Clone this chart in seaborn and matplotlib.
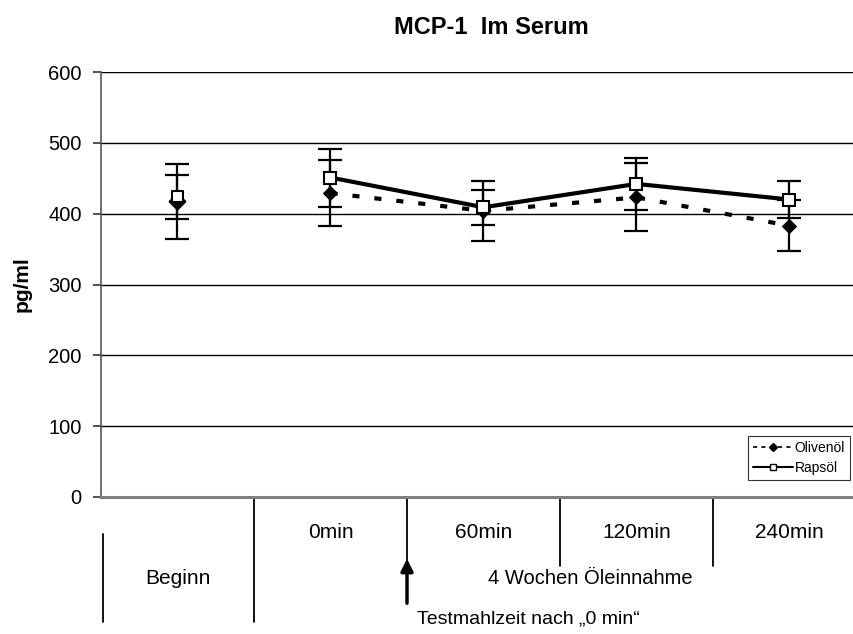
import matplotlib
matplotlib.use("Agg")
import matplotlib.pyplot as plt
import matplotlib.transforms as mtransforms
from matplotlib.lines import Line2D
import seaborn as sns
import pandas as pd

# ---- data ----
categories = ["Beginn", "0min", "60min", "120min", "240min"]
olive_mean = [417, 429, 404, 423, 383]
olive_err = [53, 47, 42, 48, 36]
raps_mean = [424, 451, 409, 442, 420]
raps_err = [31, 41, 25, 37, 26]
series_names = ["Olivenöl", "Rapsöl"]
y_ticks = [0, 100, 200, 300, 400, 500, 600]

sns.set_theme(style="white")
plt.rcParams["font.family"] = ["Liberation Sans", "DejaVu Sans"]
plt.rcParams["text.color"] = "black"
plt.rcParams["axes.labelcolor"] = "black"
plt.rcParams["ytick.color"] = "black"
plt.rcParams["xtick.color"] = "black"

W, H = 854, 634
fig = plt.figure(figsize=(W / 100, H / 100), dpi=100)
left_px, right_px, top_px, bot_px = 101, 854, 72, 497
cell_px = 153
ax = fig.add_axes([left_px / W, 1 - bot_px / H, (right_px - left_px) / W, (bot_px - top_px) / H])

x_pos = list(range(len(categories)))
rows = []
for name, means in zip(series_names, [olive_mean, raps_mean]):
    for i, (c, m) in enumerate(zip(categories, means)):
        rows.append({"x": i, "cat": c, "value": m, "series": name})
df = pd.DataFrame(rows)
df_line = df[df["x"] > 0]
df_first = df[df["x"] == 0]

# error bars
for means, errs in [(olive_mean, olive_err), (raps_mean, raps_err)]:
    ax.errorbar(x_pos, means, yerr=errs, fmt="none", ecolor="black",
                elinewidth=1.6, capsize=8.5, capthick=1.6, zorder=3)

sns.lineplot(data=df_line, x="x", y="value", hue="series", style="series",
             palette={"Olivenöl": "black", "Rapsöl": "black"},
             dashes={"Olivenöl": (1.7, 3.6), "Rapsöl": ""},
             markers={"Olivenöl": "D", "Rapsöl": "s"},
             linewidth=3, markersize=8, ax=ax, legend=False, zorder=4)

for line in ax.get_lines():
    if line.get_marker() == "s":
        line.set_markerfacecolor("white")
        line.set_markeredgecolor("black")
        line.set_markeredgewidth(1.5)
    elif line.get_marker() == "D":
        line.set_markerfacecolor("black")
        line.set_markeredgecolor("black")
        line.set_markersize(7.5)

sns.scatterplot(data=df_first, x="x", y="value", style="series", hue="series",
                palette={"Olivenöl": "black", "Rapsöl": "black"},
                markers={"Olivenöl": "D", "Rapsöl": "s"}, s=64,
                ax=ax, legend=False, zorder=5)
coll = ax.collections[-1]
fcs = ["black" if s == "Olivenöl" else "white" for s in df_first["series"]]
coll.set_facecolors(fcs)
coll.set_edgecolors("black")
coll.set_linewidths(1.5)

ax.set_xlim(-0.5, -0.5 + (right_px - left_px) / cell_px)
ax.set_ylim(0, 600)
ax.set_yticks(y_ticks)
ax.set_yticklabels([str(t) for t in y_ticks], fontsize=14.5)
ax.set_xticks([])
ax.set_xlabel("")
ax.set_ylabel("pg/ml", fontsize=15, fontweight="bold", labelpad=12)
ax.yaxis.grid(True, color="black", linewidth=1.0)
ax.set_axisbelow(True)
ax.tick_params(axis="y", which="both", left=True, length=6, width=1.2, color="#333333", pad=8)
for s in ["top", "right"]:
    ax.spines[s].set_visible(False)
ax.spines["left"].set_color("#555555")
ax.spines["left"].set_linewidth(1.2)
ax.spines["bottom"].set_color("#7f7f7f")
ax.spines["bottom"].set_linewidth(2.2)

fig.text(491 / W, 1 - 27 / H, "MCP-1  Im Serum", ha="center", va="center",
         fontsize=17, fontweight="bold")

trans = mtransforms.blended_transform_factory(ax.transData, fig.transFigure)
def fy(px):
    return 1 - px / H
def dx(px):
    return -0.5 + (px - left_px) / cell_px

for i, c in enumerate(categories[1:], start=1):
    ax.text(i, fy(532), c, transform=trans, ha="center", va="center", fontsize=15)
ax.text(0, fy(578), categories[0], transform=trans, ha="center", va="center", fontsize=15)
ax.text(dx(590), fy(578), "4 Wochen Öleinnahme", transform=trans, ha="center", va="center",
        fontsize=14.5)

for xv in [1.5, 2.5, 3.5]:
    ax.add_line(Line2D([xv, xv], [fy(497), fy(566)], transform=trans, color="black",
                       linewidth=1.3, clip_on=False))
ax.add_line(Line2D([0.5, 0.5], [fy(497), fy(622)], transform=trans, color="black",
                   linewidth=1.3, clip_on=False))
ax.add_line(Line2D([dx(103), dx(103)], [fy(534), fy(622)], transform=trans, color="black",
                   linewidth=1.3, clip_on=False))

ax.annotate("", xy=(1.5, fy(556)), xytext=(1.5, fy(606)), xycoords=trans, textcoords=trans,
            arrowprops=dict(arrowstyle="-|>", color="black", lw=2.5, mutation_scale=18))
ax.text(dx(528), fy(619), "Testmahlzeit nach \u201e0 min\u201c", transform=trans,
        ha="center", va="center", fontsize=14)

handles = [
    Line2D([], [], color="black", linestyle=(0, (2.5, 2.5)), linewidth=1.2, marker="D",
           markersize=4, markerfacecolor="black"),
    Line2D([], [], color="black", linestyle="-", linewidth=1.5, marker="s",
           markersize=4.5, markerfacecolor="white"),
]
leg = fig.legend(handles, series_names, loc="upper left",
                 bbox_to_anchor=(748 / W, 1 - 436 / H), fontsize=10,
                 frameon=True, fancybox=False, handlelength=2.9, handletextpad=0.1,
                 borderpad=0.35, labelspacing=0.45, borderaxespad=0)
leg.get_frame().set_edgecolor("black")
leg.get_frame().set_linewidth(0.8)

fig.savefig("out.png", dpi=100)
